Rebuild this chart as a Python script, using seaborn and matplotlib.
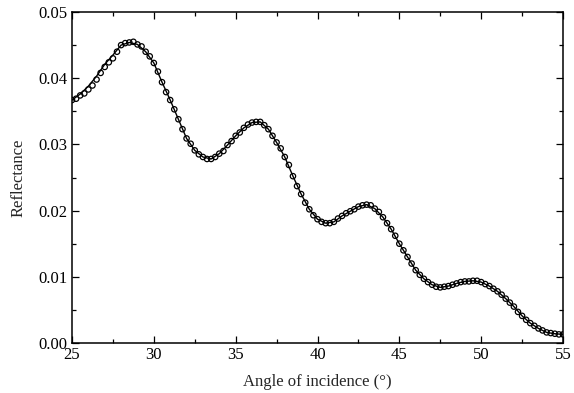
import numpy as np
import pandas as pd
import matplotlib
matplotlib.use("Agg")
import matplotlib.pyplot as plt
from matplotlib.ticker import MultipleLocator
import seaborn as sns

# measured data (open circles), angle step 0.25 deg
angle_meas = [25.0 + 0.25 * i for i in range(121)]
refl_meas = [
    0.0367, 0.0369, 0.0374, 0.0377, 0.0383, 0.0389, 0.0398, 0.0408, 0.0417, 0.0424,
    0.0430, 0.0440, 0.0450, 0.0453, 0.0454, 0.0455, 0.0451, 0.0448, 0.0440, 0.0433,
    0.0423, 0.0410, 0.0394, 0.0379, 0.0367, 0.0353, 0.0338, 0.0323, 0.0309, 0.0301,
    0.0291, 0.0285, 0.0281, 0.0278, 0.0278, 0.0281, 0.0286, 0.0290, 0.0299, 0.0305,
    0.0313, 0.0318, 0.0325, 0.0330, 0.0333, 0.0334, 0.0334, 0.0329, 0.0323, 0.0313,
    0.0303, 0.0294, 0.0281, 0.0269, 0.0252, 0.0237, 0.0225, 0.0212, 0.0202, 0.0193,
    0.0187, 0.0183, 0.0181, 0.0181, 0.0183, 0.0188, 0.0192, 0.0196, 0.0199, 0.0202,
    0.0206, 0.0208, 0.0209, 0.0208, 0.0203, 0.0198, 0.0190, 0.0181, 0.0172, 0.0162,
    0.0150, 0.0140, 0.0130, 0.0120, 0.0110, 0.0103, 0.0097, 0.0092, 0.0088, 0.0085,
    0.0084, 0.0085, 0.0086, 0.0088, 0.0090, 0.0092, 0.0093, 0.0093, 0.0094, 0.0094,
    0.0092, 0.0089, 0.0086, 0.0082, 0.0078, 0.0073, 0.0067, 0.0061, 0.0055, 0.0047,
    0.0041, 0.0035, 0.0030, 0.0026, 0.0022, 0.0019, 0.0016, 0.0015, 0.0014, 0.0013,
    0.0013,
]

# fitted curve (solid line), angle step 0.5 deg
angle_fit = [25.0 + 0.5 * i for i in range(61)]
refl_fit = [
    0.0367, 0.0376, 0.0388, 0.0403, 0.0421, 0.0435, 0.0450, 0.0454, 0.0451, 0.0440,
    0.0423, 0.0394, 0.0367, 0.0338, 0.0309, 0.0291, 0.0281, 0.0278, 0.0286, 0.0299,
    0.0313, 0.0325, 0.0333, 0.0334, 0.0323, 0.0303, 0.0281, 0.0252, 0.0225, 0.0202,
    0.0187, 0.0181, 0.0183, 0.0192, 0.0199, 0.0206, 0.0209, 0.0203, 0.0190, 0.0172,
    0.0150, 0.0130, 0.0110, 0.0097, 0.0088, 0.0084, 0.0086, 0.0090, 0.0093, 0.0094,
    0.0092, 0.0086, 0.0078, 0.0067, 0.0055, 0.0041, 0.0030, 0.0022, 0.0016, 0.0014,
    0.0013,
]

x_ticks = [25, 30, 35, 40, 45, 50, 55]
y_ticks = [0.00, 0.01, 0.02, 0.03, 0.04, 0.05]
y_tick_labels = ["0.00", "0.01", "0.02", "0.03", "0.04", "0.05"]

sns.set_style("ticks")
plt.rcParams["font.family"] = ["Liberation Serif", "DejaVu Serif"]

meas = pd.DataFrame({"angle": angle_meas, "refl": refl_meas})
fit = pd.DataFrame({"angle": angle_fit, "refl": refl_fit})

fig = plt.figure(figsize=(5.74, 3.93), dpi=100)
ax = fig.add_axes([72 / 574, 50 / 393, (563 - 72) / 574, (343 - 12) / 393])

sns.lineplot(data=fit, x="angle", y="refl", ax=ax, color="black", linewidth=1.0)
sns.scatterplot(data=meas, x="angle", y="refl", ax=ax, marker="o", s=15,
                facecolor="none", edgecolor="black", linewidth=0.9, zorder=3)

ax.set_xlim(25, 55)
ax.set_ylim(0, 0.05)
ax.set_xticks(x_ticks)
ax.set_xticklabels([str(t) for t in x_ticks])
ax.set_yticks(y_ticks)
ax.set_yticklabels(y_tick_labels)
ax.xaxis.set_minor_locator(MultipleLocator(2.5))
ax.yaxis.set_minor_locator(MultipleLocator(0.005))
ax.tick_params(which="both", direction="in", top=True, right=True, labelsize=12,
               colors="black", width=0.9)
ax.tick_params(which="major", length=5)
ax.tick_params(axis="x", which="major", pad=3)
ax.tick_params(axis="y", which="major", pad=3)
ax.tick_params(which="minor", length=3)
for sp in ax.spines.values():
    sp.set_visible(True)
    sp.set_linewidth(1.1)
    sp.set_color("black")

ax.set_xlabel("Angle of incidence (°)", fontsize=12, labelpad=8)
ax.set_ylabel("Reflectance", fontsize=12, labelpad=9)

fig.savefig("out.png", dpi=100)
